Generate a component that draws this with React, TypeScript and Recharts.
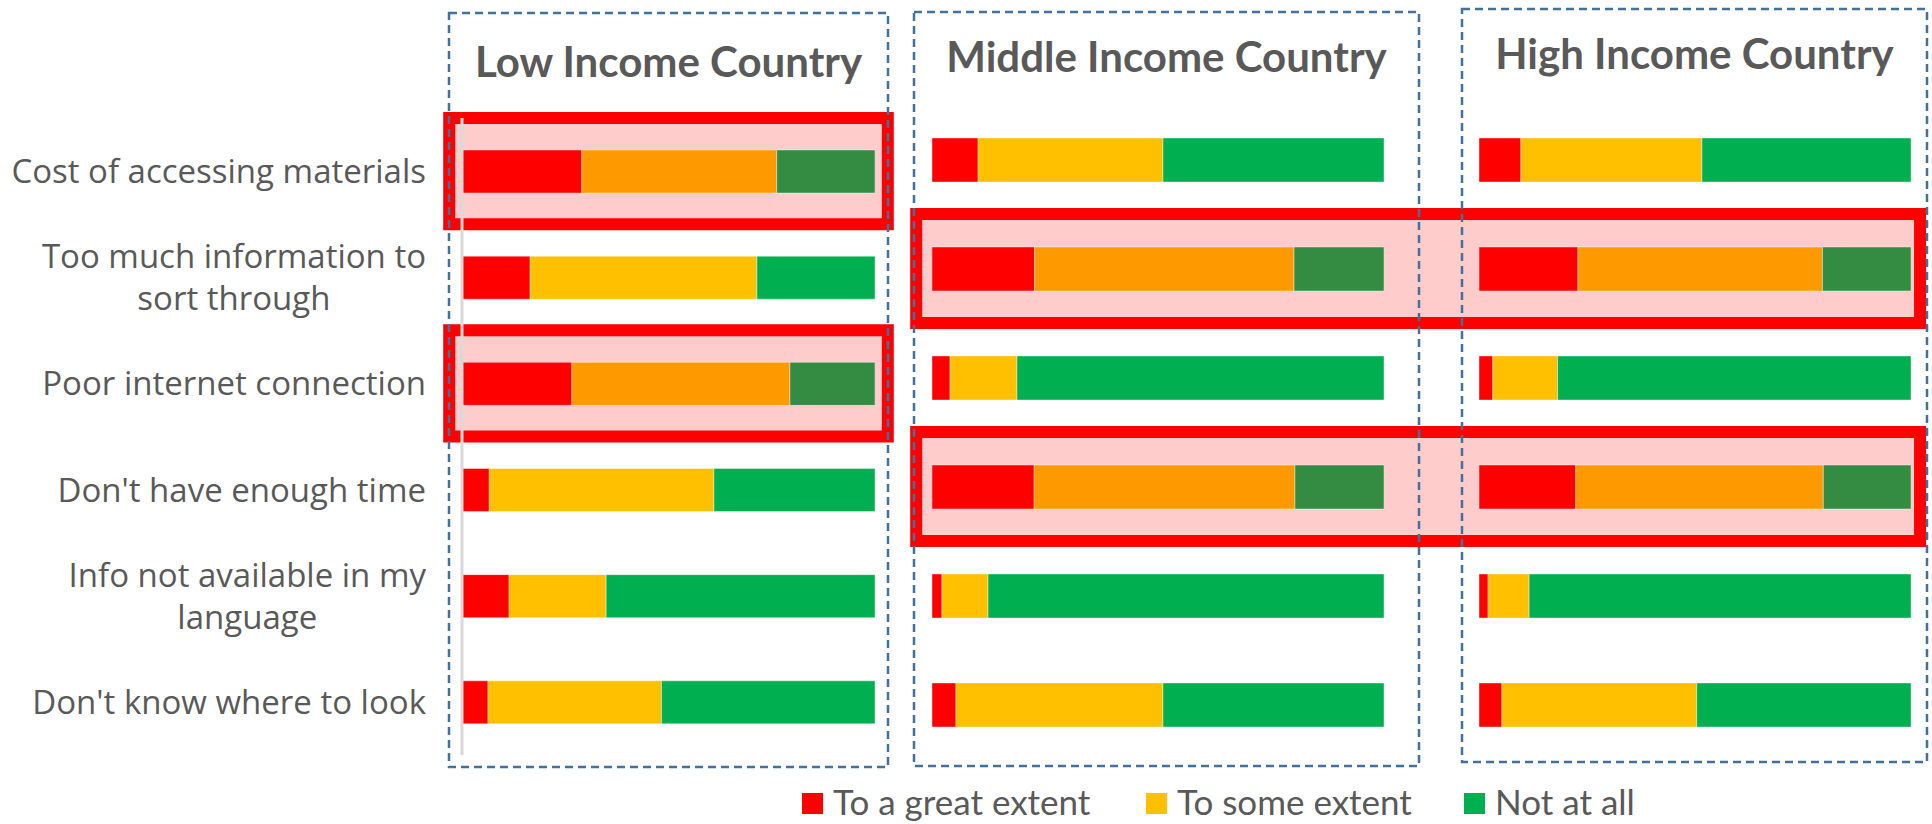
import { BarChart, Bar, XAxis, YAxis, Cell, ReferenceArea } from 'recharts'

const CATEGORIES = [
  'Cost of accessing materials',
  'Too much information to sort through',
  'Poor internet connection',
  "Don't have enough time",
  'Info not available in my language',
  "Don't know where to look",
]

// where the long labels break onto a second line
const LABEL_LINES: Record<string, string[]> = {
  'Too much information to sort through': ['Too much information to', 'sort through'],
  'Info not available in my language': ['Info not available in my', 'language'],
}

const SERIES = ['To a great extent', 'To some extent', 'Not at all']

// % of respondents, same order as CATEGORIES
const LOW_GREAT = [29, 16.5, 26.6, 6.6, 11.4, 6.3]
const LOW_SOME = [47.2, 54.9, 52.8, 54.4, 23.5, 42]
const LOW_NOT = [23.8, 28.6, 20.6, 39, 65.1, 51.7]

const MID_GREAT = [10.2, 22.7, 4, 22.6, 2.2, 5.3]
const MID_SOME = [40.9, 57.4, 14.8, 57.7, 10.2, 45.8]
const MID_NOT = [48.9, 19.9, 81.2, 19.7, 87.6, 48.9]

const HIGH_GREAT = [9.7, 22.9, 3.2, 22.4, 2.1, 5.3]
const HIGH_SOME = [41.9, 56.6, 15, 57.3, 9.5, 45.1]
const HIGH_NOT = [48.4, 20.5, 81.8, 20.3, 88.4, 49.6]

const LOW_HIGHLIGHT = ['Cost of accessing materials', 'Poor internet connection']
const MIDHIGH_HIGHLIGHT = ['Too much information to sort through', "Don't have enough time"]

const RED = '#FF0000'
const YELLOW = '#FFC000'
const GREEN = '#00B050'
const ORANGE = '#FF9900'
const DARK_GREEN = '#338C42'
const PINK = '#FFCCCC'
const TEXT = '#595959'
const FRAME = '#41719C'

const SERIES_COLORS = [RED, YELLOW, GREEN]
const LEGEND_X = [802, 1146, 1464]

function buildRows(great: number[], some: number[], not: number[]) {
  return CATEGORIES.map((category, i) => ({
    category,
    great: great[i],
    some: some[i],
    not: not[i],
  }))
}

function CategoryTick({ x, y, payload }: any) {
  const lines = LABEL_LINES[payload.value] ?? [payload.value]
  return (
    <foreignObject x={x - 440} y={y - 50} width={440} height={100}>
      <div
        style={{
          display: 'flex',
          justifyContent: 'flex-end',
          alignItems: 'center',
          height: '100%',
        }}
      >
        <div
          style={{
            textAlign: 'center',
            fontFamily: '"Open Sans", sans-serif',
            fontSize: 33,
            lineHeight: '42px',
            color: TEXT,
            whiteSpace: 'nowrap',
          }}
        >
          {lines.map((l: string) => (
            <div key={l}>{l}</div>
          ))}
        </div>
      </div>
    </foreignObject>
  )
}

interface PanelProps {
  left: number
  width: number
  top: number
  bottom: number
  marginLeft: number
  marginRight: number
  barSize: number
  great: number[]
  some: number[]
  not: number[]
  colored: string[]
  boxes?: string[]
  boxX?: [number, number]
  labels?: boolean
}

function Panel(p: PanelProps) {
  const rows = buildRows(p.great, p.some, p.not)
  const isHi = (c: string) => p.colored.includes(c)
  return (
    <div style={{ position: 'absolute', left: p.left, top: 0 }}>
      <BarChart
        width={p.width}
        height={824}
        data={rows}
        layout="vertical"
        barSize={p.barSize}
        margin={{ top: p.top, bottom: p.bottom, left: p.marginLeft, right: p.marginRight }}
      >
        <XAxis type="number" domain={[0, 100]} allowDataOverflow hide />
        <YAxis
          type="category"
          dataKey="category"
          hide={!p.labels}
          width={462}
          interval={0}
          axisLine={{ stroke: '#D9D9D9', strokeWidth: 3 }}
          tickLine={false}
          tickSize={0}
          tickMargin={36}
          tick={<CategoryTick />}
        />
        {(p.boxes ?? []).map((c) => (
          <ReferenceArea
            key={c}
            y1={c}
            y2={c}
            x1={p.boxX![0]}
            x2={p.boxX![1]}
            fill={PINK}
            fillOpacity={1}
            stroke={RED}
            strokeWidth={12}
            ifOverflow="visible"
          />
        ))}
        <Bar dataKey="great" name={SERIES[0]} stackId="s" fill={RED} stroke="rgba(255,255,255,0.4)" isAnimationActive={false}>
          {rows.map((r) => (
            <Cell key={r.category} fill={RED} />
          ))}
        </Bar>
        <Bar dataKey="some" name={SERIES[1]} stackId="s" fill={YELLOW} stroke="rgba(255,255,255,0.4)" isAnimationActive={false}>
          {rows.map((r) => (
            <Cell key={r.category} fill={isHi(r.category) ? ORANGE : YELLOW} />
          ))}
        </Bar>
        <Bar dataKey="not" name={SERIES[2]} stackId="s" fill={GREEN} stroke="rgba(255,255,255,0.4)" isAnimationActive={false}>
          {rows.map((r) => (
            <Cell key={r.category} fill={isHi(r.category) ? DARK_GREEN : GREEN} />
          ))}
        </Bar>
      </BarChart>
    </div>
  )
}

const FRAMES = [
  { x: 449, y: 13, w: 439, h: 754, title: 'Low Income Country', baseline: 77 },
  { x: 914, y: 12, w: 505, h: 754, title: 'Middle Income Country', baseline: 72 },
  { x: 1462, y: 9, w: 465, h: 753, title: 'High Income Country', baseline: 69 },
]

export default function App() {
  return (
    <div
      style={{
        position: 'absolute',
        left: 0,
        top: 0,
        width: 1932,
        height: 824,
        background: '#fff',
        overflow: 'hidden',
      }}
    >
      <Panel
        left={0}
        width={900}
        top={118}
        bottom={69}
        marginLeft={0}
        marginRight={25}
        barSize={43}
        great={LOW_GREAT}
        some={LOW_SOME}
        not={LOW_NOT}
        colored={LOW_HIGHLIGHT}
        boxes={LOW_HIGHLIGHT}
        boxX={[-3.1, 103.1]}
        labels
      />
      <Panel
        left={900}
        width={1032}
        top={105}
        bottom={65}
        marginLeft={32}
        marginRight={548}
        barSize={44}
        great={MID_GREAT}
        some={MID_SOME}
        not={MID_NOT}
        colored={MIDHIGH_HIGHLIGHT}
        boxes={MIDHIGH_HIGHLIGHT}
        boxX={[-3.5, 218.6]}
      />
      <Panel
        left={1440}
        width={492}
        top={105}
        bottom={65}
        marginLeft={39}
        marginRight={21}
        barSize={44}
        great={HIGH_GREAT}
        some={HIGH_SOME}
        not={HIGH_NOT}
        colored={MIDHIGH_HIGHLIGHT}
      />

      {/* dashed panel frames + titles */}
      <svg
        width={1932}
        height={824}
        style={{ position: 'absolute', left: 0, top: 0, pointerEvents: 'none' }}
      >
        {FRAMES.map((f) => (
          <g key={f.title}>
            <rect
              x={f.x}
              y={f.y}
              width={f.w}
              height={f.h}
              fill="none"
              stroke={FRAME}
              strokeWidth={2.5}
              strokeDasharray="8 5"
            />
            <text
              x={f.x + f.w / 2}
              y={f.baseline}
              textAnchor="middle"
              fill={TEXT}
              fontFamily="Lato, sans-serif"
              fontWeight={700}
              fontSize={42}
            >
              {f.title}
            </text>
          </g>
        ))}
      </svg>

      {/* legend */}
      {SERIES.map((s, i) => (
        <div
          key={s}
          style={{
            position: 'absolute',
            left: LEGEND_X[i],
            top: 784,
            height: 35,
            display: 'flex',
            alignItems: 'center',
            gap: 10,
            fontFamily: 'Lato, sans-serif',
            fontSize: 35,
            lineHeight: '35px',
            color: TEXT,
            whiteSpace: 'nowrap',
          }}
        >
          <div style={{ width: 21, height: 21, background: SERIES_COLORS[i], marginTop: 4 }} />
          <span>{s}</span>
        </div>
      ))}
    </div>
  )
}
